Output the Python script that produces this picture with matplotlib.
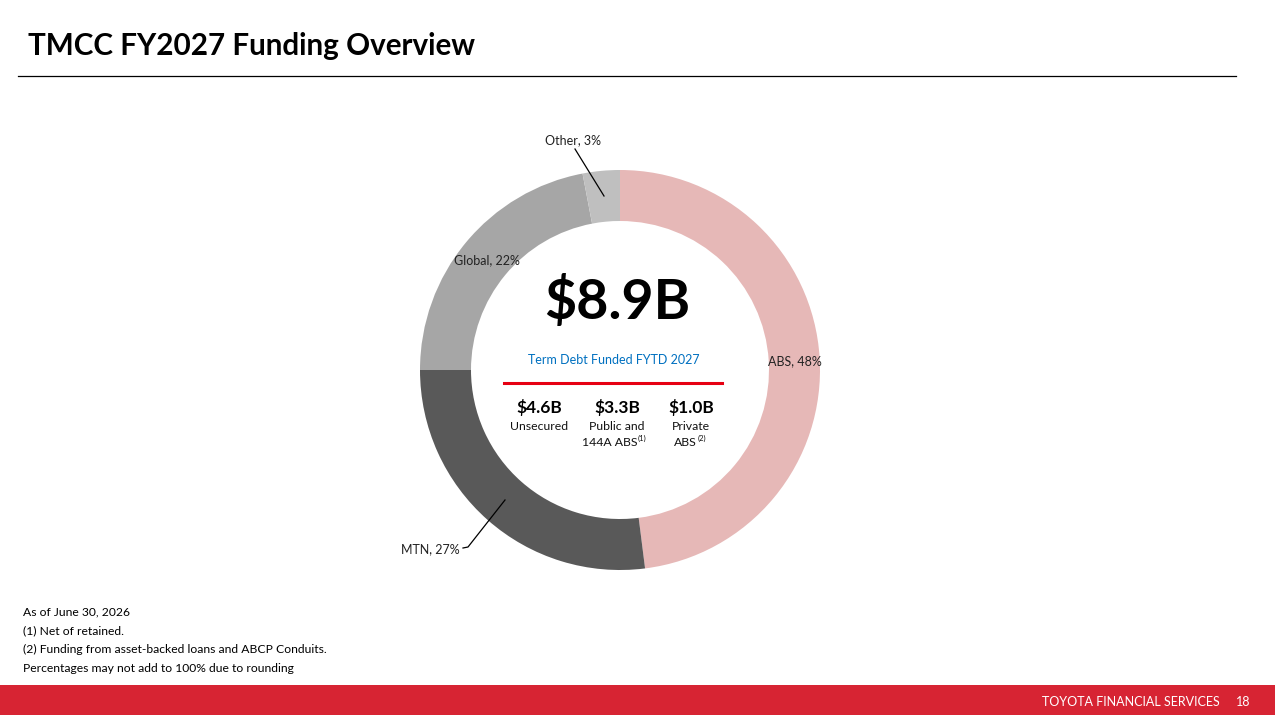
import matplotlib
matplotlib.use("Agg")
import matplotlib.pyplot as plt
from matplotlib.patches import Rectangle

W, H = 1275, 715

categories = ["ABS", "MTN", "Global", "Other"]
shares = [48, 27, 22, 3]
colors = ["#E6B8B7", "#595959", "#A6A6A6", "#BFBFBF"]

total_label = "$8.9B"
subtitle = "Term Debt Funded FYTD 2027"
sub_values = ["$4.6B", "$3.3B", "$1.0B"]
sub_line1 = ["Unsecured", "Public and", "Private"]
sub_line2 = ["", "144A ABS", "ABS"]
sub_marks = ["", "(1)", "(2)"]

notes = ["As of June 30, 2026",
         "(1) Net of retained.",
         "(2) Funding from asset-backed loans and ABCP Conduits.",
         "Percentages may not add to 100% due to rounding"]

plt.rcParams['font.family'] = ['Lato', 'DejaVu Sans']

fig = plt.figure(figsize=(W / 100, H / 100), dpi=100)
fig.patch.set_facecolor("white")

def fx(x):
    return x / W

def fy(y):
    return 1 - y / H

# Title and rule
fig.text(fx(28), fy(46), "TMCC FY2027 Funding Overview", fontsize=21.3, fontweight="bold",
         ha="left", va="center", color="black")
fig.add_artist(plt.Line2D([fx(18), fx(1236)], [fy(76), fy(76)], color="black", lw=0.9))

# Donut
cx, cy, R = 620, 370, 200
ax = fig.add_axes([fx(cx - R), fy(cy + R), 2 * R / W, 2 * R / H])
ax.pie(shares, colors=colors, startangle=90, counterclock=False, radius=1,
       wedgeprops=dict(width=0.255, edgecolor="none"))
ax.set_aspect("auto")
ax.set_xlim(-1, 1)
ax.set_ylim(-1, 1)
ax.axis("off")

def d(px, py):
    return ((px - cx) / R, (cy - py) / R)

# Slice labels
lab_kw = dict(fontsize=9, color="#222222")
ax.text(*d(573, 140), f"{categories[3]}, {shares[3]}%", ha="center", va="center", **lab_kw)
ax.plot(*zip(d(575, 149), d(604, 196)), color="black", lw=0.9, clip_on=False)
ax.text(*d(487, 260), f"{categories[2]}, {shares[2]}%", ha="center", va="center", **lab_kw)
ax.text(*d(795, 361), f"{categories[0]}, {shares[0]}%", ha="center", va="center", **lab_kw)
ax.text(*d(460, 549), f"{categories[1]}, {shares[1]}%", ha="right", va="center", **lab_kw)
ax.plot(*zip(d(463, 548), d(468, 547), d(505, 500)), color="black", lw=0.9, clip_on=False)

# Center texts
ax.text(*d(617, 301), total_label, ha="center", va="center", fontsize=40,
        fontweight="bold", color="black")
ax.text(*d(614, 360), subtitle, ha="center", va="center", fontsize=9, color="#0070C0")
ax.plot(*zip(d(504, 383), d(722, 383)), color="#E60012", lw=2.2)

xs = [539, 617, 691]
ends = [0, 637, 697]
for x, v, l1, l2, m, e in zip(xs, sub_values, sub_line1, sub_line2, sub_marks, ends):
    ax.text(*d(x, 408), v, ha="center", va="center", fontsize=12.5, fontweight="bold", color="black")
    ax.text(*d(x, 426), l1, ha="center", va="center", fontsize=8.8, color="#111111")
    if l2:
        ax.text(*d(e, 442), l2, ha="right", va="center", fontsize=8.8, color="#111111")
        ax.text(*d(e + 0.5, 438), m, ha="left", va="center", fontsize=5.5, color="#111111")

# Notes
for i, t in enumerate(notes):
    fig.text(fx(23), fy(612 + i * 18.7), t, fontsize=8.75, ha="left", va="center", color="black")

# Footer bar
fig.add_artist(Rectangle((0, 0), 1, fy(685), transform=fig.transFigure,
                         facecolor="#D72433", edgecolor="none"))
fig.text(fx(1220), fy(702), "TOYOTA FINANCIAL SERVICES", fontsize=9, color="white",
         ha="right", va="center")
fig.text(fx(1243), fy(702), "18", fontsize=9, color="white", ha="center", va="center")

fig.savefig("out.png", dpi=100, facecolor="white")
